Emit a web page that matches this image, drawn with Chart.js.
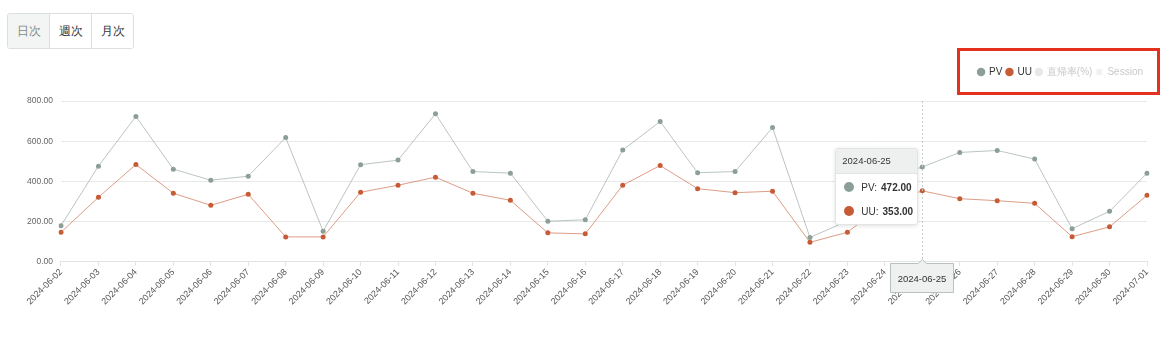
<!DOCTYPE html>
<html>
<head>
<meta charset="utf-8">
<script src="https://cdn.jsdelivr.net/npm/chart.js@4.4.1/dist/chart.umd.min.js"></script>
<style>
  body { margin: 0; background: #fff; font-family: "Liberation Sans", Arial, sans-serif; width: 1175px; height: 344px; overflow: hidden; position: relative; }
  .btns { position: absolute; left: 7px; top: 13px; display: flex; border: 1px solid #dcdfe0; border-radius: 3px; overflow: hidden; }
  .btns div { width: 41px; height: 34px; line-height: 34px; text-align: center; font-size: 12px; color: #333; border-left: 1px solid #dcdfe0; background: #fff; }
  .btns div:first-child { border-left: none; background: #f3f4f4; color: #7d8c87; }
  #wrap { position: absolute; left: 0; top: 50px; width: 1175px; height: 258px; }
  .mark { position: absolute; left: 957px; top: 48px; width: 197px; height: 41px; border: 3px solid #e3311d; pointer-events: none; }
  #tip { position: absolute; width: 81px; background: #fff; border: 1px solid #e2e5e4; border-radius: 3px; box-shadow: 0 1px 4px rgba(0,0,0,0.12); color: #333; overflow: hidden; pointer-events: none; }
  #tip .hd { background: #eef0f0; padding: 0 6px; height: 24px; line-height: 24px; border-bottom: 1px solid #e2e5e4; font-size: 9.5px; }
  #tip .body { padding: 1px 0; }
  #tip .row { display: flex; align-items: center; height: 24px; padding: 0 8px; font-size: 10px; white-space: nowrap; }
  #tip .dot { flex: 0 0 10px; width: 10px; height: 10px; border-radius: 50%; margin-right: 7px; }
  #tip b { margin-left: 4px; }
</style>
</head>
<body>
<div class="btns"><div>日次</div><div>週次</div><div>月次</div></div>
<div id="wrap"><canvas id="myChart"></canvas></div>
<div class="mark"></div>
<div id="tip"></div>
<script>
// daily values, 2024-06-02 .. 2024-07-01
const dates = [
  '2024-06-02', '2024-06-03', '2024-06-04', '2024-06-05', '2024-06-06', '2024-06-07',
  '2024-06-08', '2024-06-09', '2024-06-10', '2024-06-11', '2024-06-12', '2024-06-13',
  '2024-06-14', '2024-06-15', '2024-06-16', '2024-06-17', '2024-06-18', '2024-06-19',
  '2024-06-20', '2024-06-21', '2024-06-22', '2024-06-23', '2024-06-24', '2024-06-25',
  '2024-06-26', '2024-06-27', '2024-06-28', '2024-06-29', '2024-06-30', '2024-07-01'
];
const pv = [180, 476, 723, 461, 406, 426, 618, 152, 483, 506, 736, 449, 441, 202, 209,
            556, 698, 443, 449, 668, 121, 203, 410, 472, 544, 554, 511, 165, 251, 441];
const uu = [147, 321, 484, 341, 281, 336, 124, 124, 346, 381, 421, 341, 306, 144, 139,
            381, 479, 364, 344, 351, 97, 147, 290, 353, 314, 304, 291, 125, 174, 331];
const yTicks = [0, 200, 400, 600, 800];
const legendNames = ['PV', 'UU', '直帰率(%)', 'Session'];
const activeIndex = 23;

const pvColor = '#8c9f97';
const uuColor = '#c65b36';
const font = '"Liberation Sans", Arial, sans-serif';

// custom legend entries (the last two are switched off)
const legendItems = [
  { text: legendNames[0], fillStyle: pvColor, strokeStyle: pvColor, fontColor: '#333', pointStyle: 'circle' },
  { text: legendNames[1], fillStyle: uuColor, strokeStyle: uuColor, fontColor: '#333', pointStyle: 'circle' },
  { text: legendNames[2], fillStyle: '#e8e8e8', strokeStyle: '#e8e8e8', fontColor: '#c8c8c8', pointStyle: 'circle' },
  { text: legendNames[3], fillStyle: '#f2f2f2', strokeStyle: '#f2f2f2', fontColor: '#c8c8c8', pointStyle: 'rect' }
];

// extra room between legend and plot
const legendGap = {
  id: 'legendGap',
  beforeInit(chart) {
    const fit = chart.legend.fit;
    chart.legend.fit = function () {
      fit.bind(chart.legend)();
      this.height += 14;
    };
  }
};

// dashed cross line + date box on the x axis
const crosshair = {
  id: 'crosshair',
  afterDraw(chart) {
    const act = chart.tooltip.getActiveElements();
    if (!act.length) return;
    const x = act[0].element.x;
    const { top, bottom } = chart.chartArea;
    const ctx = chart.ctx;
    ctx.save();
    ctx.strokeStyle = '#c9cccb';
    ctx.lineWidth = 1;
    ctx.setLineDash([2, 2]);
    ctx.beginPath();
    ctx.moveTo(Math.round(x) + 0.5, top);
    ctx.lineTo(Math.round(x) + 0.5, bottom);
    ctx.stroke();
    ctx.setLineDash([]);

    const w = 63, h = 29, bx = Math.round(x - 32) + 0.5, by = Math.round(bottom) + 1.5;
    ctx.fillStyle = '#eef1f0';
    ctx.strokeStyle = '#b8c1be';
    ctx.beginPath();
    ctx.moveTo(bx, by);
    ctx.lineTo(x - 4, by);
    ctx.lineTo(x, by - 4);
    ctx.lineTo(x + 4, by);
    ctx.lineTo(bx + w, by);
    ctx.lineTo(bx + w, by + h);
    ctx.lineTo(bx, by + h);
    ctx.closePath();
    ctx.fill();
    ctx.stroke();
    ctx.fillStyle = '#333';
    ctx.font = '9.5px ' + font;
    ctx.textAlign = 'center';
    ctx.textBaseline = 'middle';
    ctx.fillText(chart.data.labels[act[0].index], bx + w / 2, by + h / 2 + 1);
    ctx.restore();
  }
};

function externalTip(context) {
  const el = document.getElementById('tip');
  const tt = context.tooltip;
  if (tt.opacity === 0) { el.style.display = 'none'; return; }
  const idx = tt.dataPoints[0].dataIndex;
  let html = '<div class="hd">' + dates[idx] + '</div><div class="body">';
  tt.dataPoints.forEach(dp => {
    const c = dp.dataset.pointBackgroundColor;
    html += '<div class="row"><span class="dot" style="background:' + c + '"></span>' +
      dp.dataset.label + ':<b>' + dp.parsed.y.toFixed(2) + '</b></div>';
  });
  html += '</div>';
  el.innerHTML = html;
  el.style.display = 'block';
  const rect = context.chart.canvas.getBoundingClientRect();
  el.style.left = (rect.left + tt.caretX - 87) + 'px';
  el.style.top = (rect.top + context.chart.chartArea.top + 47) + 'px';
}

const ctx = document.getElementById('myChart');
const chart = new Chart(ctx, {
  type: 'line',
  data: {
    labels: dates,
    datasets: [
      {
        label: 'PV', data: pv,
        borderColor: 'rgba(140,159,151,0.6)', borderWidth: 1,
        pointBackgroundColor: pvColor, pointBorderColor: pvColor,
        pointRadius: 2.5, pointHoverRadius: 2.5, pointBorderWidth: 0, tension: 0
      },
      {
        label: 'UU', data: uu,
        borderColor: 'rgba(198,91,54,0.6)', borderWidth: 1,
        pointBackgroundColor: uuColor, pointBorderColor: uuColor,
        pointRadius: 2.5, pointHoverRadius: 2.5, pointBorderWidth: 0, tension: 0
      }
    ]
  },
  options: {
    responsive: true,
    maintainAspectRatio: false,
    animation: false,
    events: [],
    interaction: { mode: 'index', intersect: false },
    layout: { padding: { left: 19, right: 28, top: 13, bottom: 0 } },
    plugins: {
      legend: {
        position: 'top',
        align: 'end',
        labels: {
          usePointStyle: true,
          boxWidth: 6, boxHeight: 6,
          padding: 4,
          font: { family: font, size: 10 },
          generateLabels: () => legendItems.map((it, i) => Object.assign({ lineWidth: 0, hidden: false, datasetIndex: i }, it))
        }
      },
      tooltip: { enabled: false, external: externalTip }
    },
    scales: {
      x: {
        grid: { display: true, drawOnChartArea: false, color: '#e3e3e3', tickLength: 4 },
        border: { color: '#e3e3e3' },
        ticks: {
          color: '#555', minRotation: 45, maxRotation: 45, autoSkip: false, padding: 1,
          font: { family: font, size: 9 }
        }
      },
      y: {
        min: yTicks[0], max: yTicks[yTicks.length - 1],
        afterBuildTicks: axis => { axis.ticks = yTicks.map(v => ({ value: v })); },
        grid: { color: '#e8e8e8', drawTicks: false },
        border: { display: false },
        ticks: {
          color: '#666', padding: 8,
          font: { family: font, size: 8.5 },
          callback: v => v.toFixed(2)
        }
      }
    }
  },
  plugins: [legendGap, crosshair]
});

// show the 06-25 readout
const meta0 = chart.getDatasetMeta(0).data[activeIndex];
chart.tooltip.setActiveElements(
  [{ datasetIndex: 0, index: activeIndex }, { datasetIndex: 1, index: activeIndex }],
  { x: meta0.x, y: meta0.y }
);
chart.update();
</script>
</body>
</html>
